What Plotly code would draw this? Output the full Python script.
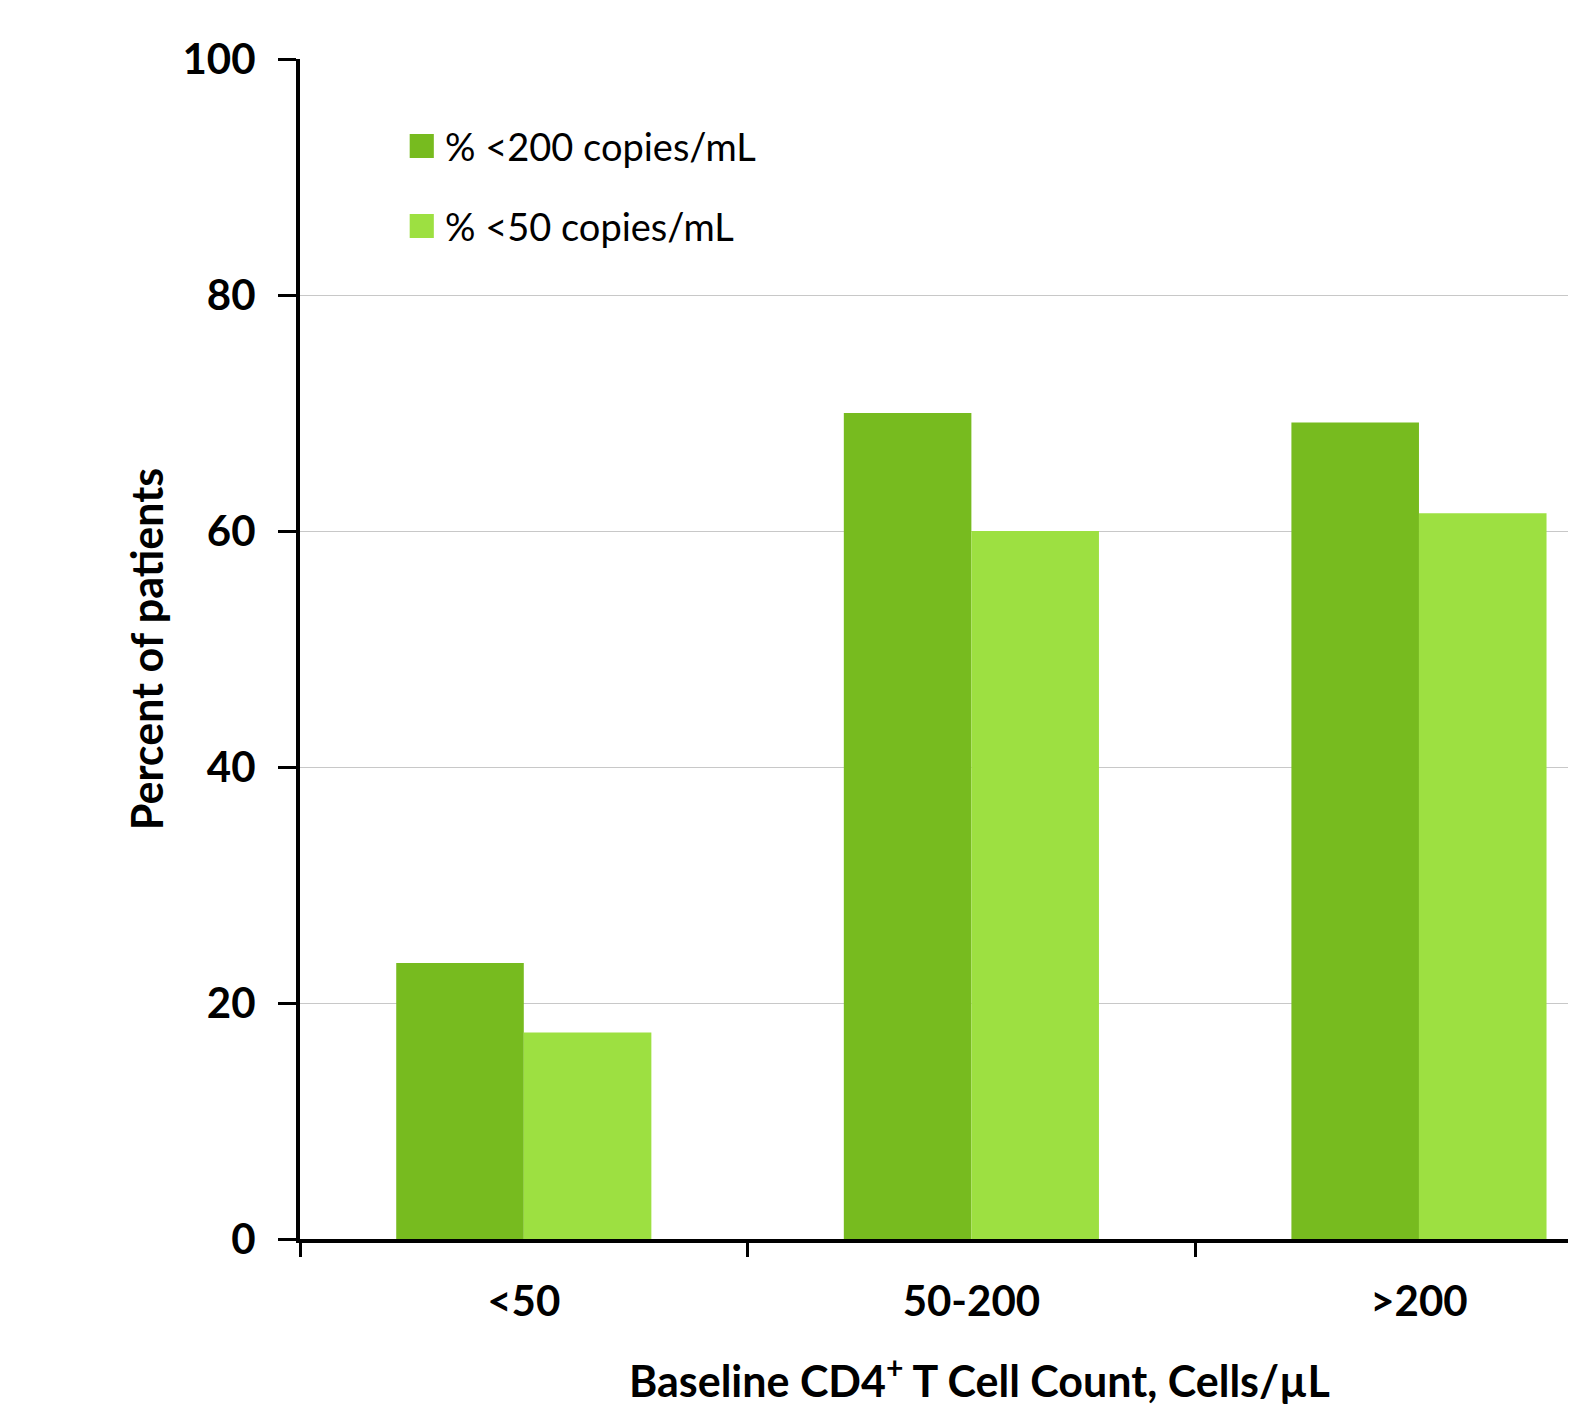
import plotly.graph_objects as go

categories = ["<50", "50-200", ">200"]
series_names = ["% <200 copies/mL", "% <50 copies/mL"]
below_200 = [23.4, 70.0, 69.2]
below_50 = [17.5, 60.0, 61.5]
y_ticks = [0, 20, 40, 60, 80, 100]
colors = ["#77BB1F", "#9DE041"]
x_title = "Baseline CD4<sup>+</sup> T Cell Count, Cells/µL"
y_title = "Percent of patients"

W, H = 1576, 1408
OFF = 8  # default page body margin
L, T, B = 292, 51, 177
plot_w = W - OFF - L
plot_h = H - T - B
cat_w = 444.8

fig = go.Figure()
for name, vals, col in zip(series_names, [below_200, below_50], colors):
    fig.add_trace(go.Bar(x=categories, y=vals, name=name, marker_color=col,
                         marker_line_width=0, showlegend=False))

font = "Lato, 'Open Sans', sans-serif"
fig.update_layout(
    width=W, height=H,
    margin=dict(l=L, r=0, t=T, b=B),
    plot_bgcolor="white", paper_bgcolor="white",
    barmode="group", bargap=0.43, bargroupgap=0,
    font=dict(family=font, color="black"),
    xaxis=dict(
        range=[-0.5, -0.5 + plot_w / cat_w],
        tickson="boundaries", ticks="outside", ticklen=14, tickwidth=3,
        tickcolor="black", showline=True, linecolor="black", linewidth=4,
        showgrid=False, tickfont=dict(size=42, family=font, weight="bold"),
        ticklabelstandoff=23,
    ),
    yaxis=dict(
        range=[0, 100], tickvals=y_ticks, ticks="outside", ticklen=18,
        tickwidth=3, tickcolor="black", showline=True, linecolor="black",
        linewidth=4, showgrid=True, gridcolor="#c8c8c8", gridwidth=1,
        zeroline=False, tickfont=dict(size=42, family=font, weight="bold"),
        ticklabelstandoff=14,
        title=dict(text=y_title,
                   font=dict(size=43, family=font, weight="bold"), standoff=6),
    ),
)

def px_x(px):
    return (px - OFF - L) / plot_w

def px_y(py):
    return (H - B + OFF - py) / plot_h

fig.add_annotation(xref="paper", yref="paper", x=px_x(975), y=px_y(1377),
                   xanchor="center", yanchor="middle", showarrow=False,
                   text=x_title,
                   font=dict(size=43, family=font, color="black", weight="bold"))

legend_rows = [146, 226]
for name, col, cy in zip(series_names, colors, legend_rows):
    fig.add_shape(type="rect", xref="paper", yref="paper",
                  x0=px_x(409), x1=px_x(433), y0=px_y(cy + 12), y1=px_y(cy - 12),
                  fillcolor=col, line_width=0)
    fig.add_annotation(xref="paper", yref="paper", x=px_x(442), y=px_y(cy),
                       xanchor="left", yanchor="middle", showarrow=False,
                       text=name, font=dict(size=38, family=font, color="black"))

fig.write_html("out.html")
